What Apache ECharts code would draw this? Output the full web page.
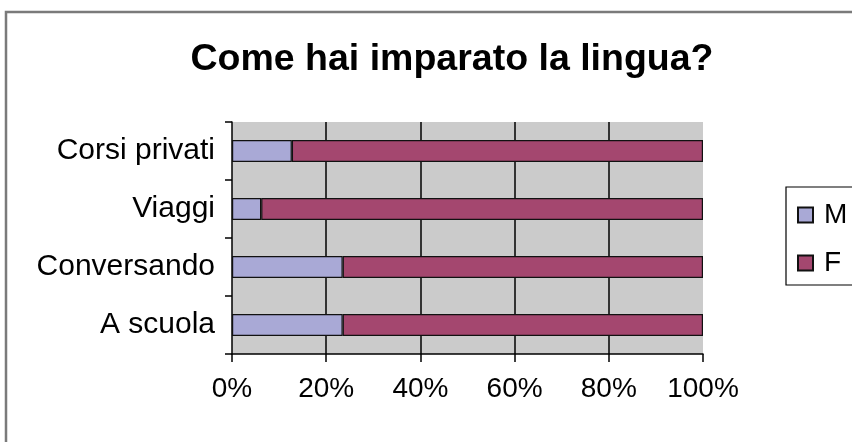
<!DOCTYPE html>
<html>
<head>
<meta charset="utf-8">
<script src="https://cdn.jsdelivr.net/npm/echarts@6/dist/echarts.min.js"></script>
<style>
html,body{margin:0;padding:0;background:#fff;}
#chart{width:852px;height:442px;}
</style>
</head>
<body>
<div id="chart"></div>
<script>
var titleText = 'Come hai imparato la lingua?';
var categories = ['A scuola', 'Conversando', 'Viaggi', 'Corsi privati'];
var seriesNames = ['M', 'F'];
var valuesM = [23.5, 23.5, 6.2, 12.7];
var valuesF = [76.5, 76.5, 93.8, 87.3];
var xTicks = [0, 20, 40, 60, 80, 100];

var FONT = '"Liberation Sans", Arial, Helvetica, sans-serif';
var chart = echarts.init(document.getElementById('chart'), null, {renderer: 'canvas'});
chart.setOption({
  animation: false,
  backgroundColor: '#ffffff',
  title: {
    text: titleText,
    left: 447,
    textAlign: 'center',
    top: 36,
    textStyle: {fontFamily: FONT, fontSize: 37.5, fontWeight: 'bold', color: '#000'}
  },
  graphic: [{
    type: 'rect',
    shape: {x: 6, y: 12, width: 900, height: 500},
    style: {fill: 'none', stroke: '#7a7a7a', lineWidth: 2.5},
    silent: true, z: 100
  }, {
    type: 'rect',
    shape: {x: 786, y: 187, width: 200, height: 98},
    style: {fill: 'none', stroke: '#000', lineWidth: 1.2},
    silent: true, z: 100
  }],
  legend: {
    orient: 'vertical',
    left: 786,
    top: 187,
    padding: [13, 10, 7, 11],
    itemWidth: 15,
    itemHeight: 15,
    itemGap: 18,
    icon: 'rect',
    borderWidth: 0,
    data: seriesNames,
    textStyle: {fontFamily: FONT, fontSize: 28, color: '#000', lineHeight: 30, padding: [0, 0, 0, 6]}
  },
  grid: {
    left: 232, right: 149, top: 122, bottom: 88,
    show: true, backgroundColor: '#cbcbcb', borderWidth: 0
  },
  xAxis: {
    type: 'value',
    min: xTicks[0],
    max: xTicks[xTicks.length - 1],
    interval: xTicks[1] - xTicks[0],
    axisLine: {show: true, lineStyle: {color: '#000', width: 1.5}},
    axisTick: {show: true, length: 8, lineStyle: {color: '#000', width: 1.5}},
    splitLine: {show: true, showMinLine: false, showMaxLine: false, lineStyle: {color: '#000', width: 1.5}},
    axisLabel: {formatter: '{value}%', fontFamily: FONT, fontSize: 28, color: '#000', margin: 21}
  },
  yAxis: {
    type: 'category',
    data: categories,
    axisLine: {show: true, lineStyle: {color: '#000', width: 1.5}},
    axisTick: {show: true, length: 7, alignWithLabel: false, lineStyle: {color: '#000', width: 1.5}},
    splitLine: {show: false},
    axisLabel: {fontFamily: FONT, fontSize: 30, color: '#000', margin: 17}
  },
  series: [{
    name: seriesNames[0],
    type: 'bar',
    stack: 'total',
    data: valuesM,
    barWidth: 22,
    itemStyle: {color: '#a9a9d6', borderColor: '#111', borderWidth: 1.2}
  }, {
    name: seriesNames[1],
    type: 'bar',
    stack: 'total',
    data: valuesF,
    barWidth: 22,
    itemStyle: {color: '#a4476f', borderColor: '#111', borderWidth: 1.2}
  }]
});
</script>
</body>
</html>
